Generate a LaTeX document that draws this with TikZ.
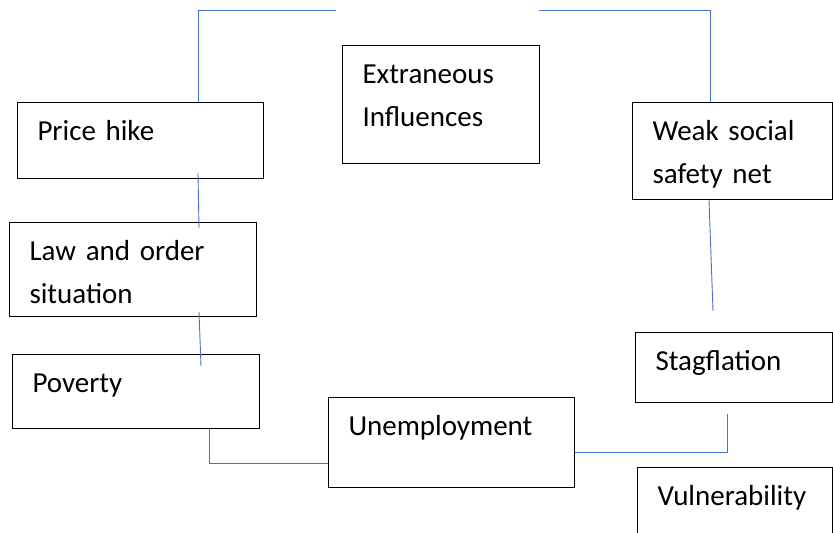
\documentclass[tikz,border=0pt]{standalone}
\usepackage{fontspec}
\setmainfont{Carlito}
\usepackage{tikz}
\usetikzlibrary{positioning,calc}
\definecolor{linkblue}{RGB}{68,114,196}
\tikzstyle{every box} = []
\tikzstyle{box} = [draw, line width=1pt, anchor=north west, align=left, inner xsep=20pt, inner ysep=0pt, text height=38pt, font=\fontsize{29}{43}\selectfont, every box]
\tikzstyle{link} = [draw=linkblue, line width=0.9pt]

\begin{document}
\begin{tikzpicture}[x=1pt, y=-1pt]

        \useasboundingbox (0,0) rectangle (833,533);

        \node[box, text width=206pt, text depth=38pt] (pricehike) at (17,102) {Price hike};
        \node[box, text width=157pt, text depth=80pt] (extraneous) at (342,45) {Extraneous\\Influences};
        \node[box, text width=160pt, text depth=59pt] (weaksocial) at (632,102) {Weak social\\safety net};

        \node[box, text width=207pt, text depth=56pt] (laworder) at (9,222) {Law and order\\situation};
        \node[box, text width=207pt, text depth=36pt] (poverty) at (12,354) {Poverty};
        \node[box, text width=206pt, text depth=52pt] (unemployment) at (328,397) {Unemployment};

        \node[box, text width=157pt, text depth=32pt] (stagflation) at (635,332) {Stagflation};
        \node[box, text width=155pt, text depth=42pt] (vulnerability) at (637,467) {Vulnerability};

        \coordinate (topleft) at (336,10);
        \coordinate (topright) at (539,10);

        % connectors
        \draw[link] ([shift={(181,0)}]pricehike.north west) |- (topleft);
        \draw[link] (topright) -| ([shift={(78,0)}]weaksocial.north west);
        \draw[link] ([shift={(181,-6)}]pricehike.south west) -- ([shift={(190,6)}]laworder.north west);
        \draw[link] ([shift={(190,-5)}]laworder.south west) -- ([shift={(189,12)}]poverty.north west);
        \draw[link] ([shift={(197,0)}]poverty.south west) |- ([shift={(0,-25)}]unemployment.south west);
        \draw[link] ([shift={(0,-36)}]unemployment.south east) -| ([shift={(92,11)}]stagflation.south west);
        \draw[link] ([shift={(77,0)}]weaksocial.south west) -- ([shift={(78,-21)}]stagflation.north west);

    \end{tikzpicture}
\end{document}
